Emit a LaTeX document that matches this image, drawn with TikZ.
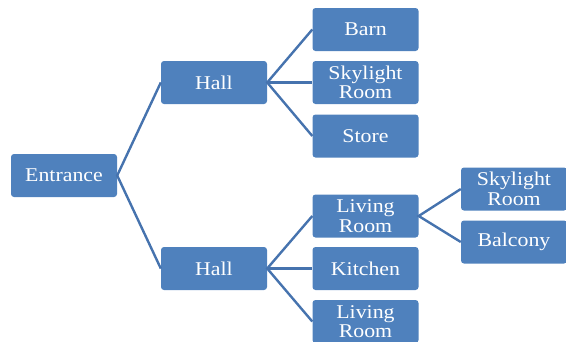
\documentclass[tikz,border=0pt]{standalone}
\usepackage{fontspec}
\setmainfont{Liberation Serif}[FakeStretch=1.12]
\definecolor{boxblue}{HTML}{4F81BD}
\definecolor{linkblue}{HTML}{4673AE}
\begin{document}
\begin{tikzpicture}[x=1pt,y=1pt,
  room/.style={fill=boxblue, rounded corners=3pt, minimum width=106pt, minimum height=43pt,
    inner sep=0pt, text=white, align=center, font=\fontsize{19.5}{19.5}\selectfont},
  link/.style={draw=linkblue, line width=2.4pt}]
\useasboundingbox (0,0) rectangle (566,-341);
\node[room] (ent) at (64,-175.5) {Entrance};
\node[room] (h1) at (214,-82.5) {Hall};
\node[room] (h2) at (214,-268.5) {Hall};
\node[room] (barn) at (365.5,-29.5) {Barn};
\node[room] (sky1) at (365.5,-82.5) {Skylight\\Room};
\node[room] (store) at (365.5,-136) {Store};
\node[room] (liv1) at (365.5,-216) {Living\\Room};
\node[room] (kit) at (365.5,-268.5) {Kitchen};
\node[room] (liv2) at (365.5,-321.5) {Living\\Room};
\node[room] (sky2) at (514,-189) {Skylight\\Room};
\node[room] (balc) at (514,-242) {Balcony};
\draw[link] (h1.west) -- (ent.east) -- (h2.west);
\draw[link] (barn.west) -- (h1.east) -- (store.west);
\draw[link] (h1.east) -- (sky1.west);
\draw[link] (liv1.west) -- (h2.east) -- (liv2.west);
\draw[link] (h2.east) -- (kit.west);
\draw[link] (sky2.west) -- (liv1.east) -- (balc.west);
\end{tikzpicture}
\end{document}
